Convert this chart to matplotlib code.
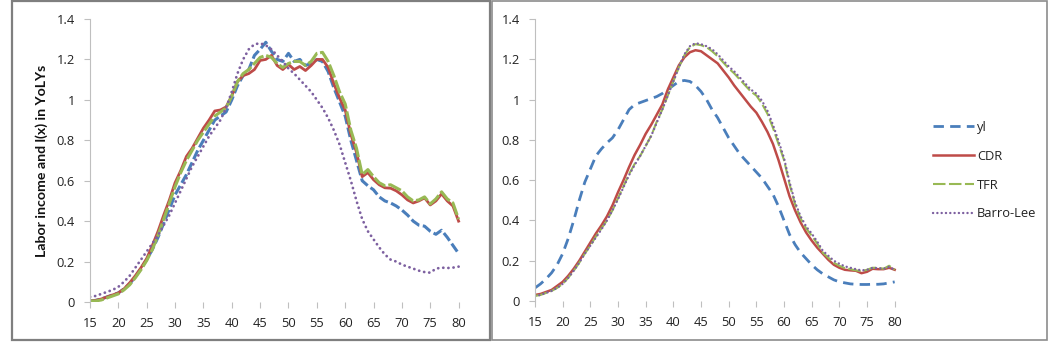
import matplotlib
matplotlib.use("Agg")
import matplotlib.pyplot as plt
from matplotlib.patches import Rectangle

plt.rcParams['font.family'] = ['Open Sans', 'DejaVu Sans']
plt.rcParams['lines.scale_dashes'] = False

ages = list(range(15, 81))
xticks = list(range(15, 81, 5))
yticks = [0, 0.2, 0.4, 0.6, 0.8, 1.0, 1.2, 1.4]
ytick_labels = ["0", "0.2", "0.4", "0.6", "0.8", "1", "1.2", "1.4"]
series_names = ["yl", "CDR", "TFR", "Barro-Lee"]
ylabel_text = "Labor income and l(x) in YoLYs"

# ---- left panel ----
left_yl = [0.005, 0.008, 0.015, 0.025, 0.035, 0.045, 0.065, 0.09, 0.125, 0.165,
           0.21, 0.26, 0.32, 0.39, 0.46, 0.53, 0.58, 0.63, 0.69, 0.75,
           0.80, 0.85, 0.90, 0.92, 0.94, 1.00, 1.07, 1.12, 1.15, 1.22,
           1.25, 1.285, 1.24, 1.20, 1.19, 1.23, 1.19, 1.20, 1.17, 1.18,
           1.20, 1.19, 1.14, 1.06, 0.99, 0.92, 0.80, 0.70, 0.60, 0.575,
           0.555, 0.52, 0.50, 0.49, 0.475, 0.455, 0.43, 0.40, 0.38, 0.375,
           0.35, 0.335, 0.355, 0.32, 0.28, 0.24]
left_cdr = [0.005, 0.008, 0.015, 0.025, 0.035, 0.045, 0.065, 0.095, 0.13, 0.17,
            0.215, 0.28, 0.35, 0.43, 0.505, 0.59, 0.65, 0.72, 0.76, 0.81,
            0.86, 0.90, 0.945, 0.95, 0.965, 1.02, 1.09, 1.12, 1.13, 1.15,
            1.195, 1.20, 1.22, 1.17, 1.15, 1.175, 1.15, 1.165, 1.145, 1.17,
            1.20, 1.20, 1.16, 1.08, 1.01, 0.95, 0.83, 0.74, 0.62, 0.64,
            0.605, 0.58, 0.565, 0.563, 0.55, 0.53, 0.505, 0.49, 0.50, 0.515,
            0.48, 0.50, 0.535, 0.50, 0.475, 0.40]
left_tfr = [0.005, 0.005, 0.01, 0.02, 0.03, 0.04, 0.06, 0.085, 0.12, 0.16,
            0.205, 0.26, 0.33, 0.41, 0.49, 0.57, 0.64, 0.70, 0.75, 0.80,
            0.84, 0.88, 0.92, 0.94, 0.96, 1.02, 1.09, 1.13, 1.15, 1.18,
            1.21, 1.22, 1.21, 1.18, 1.16, 1.18, 1.19, 1.19, 1.17, 1.19,
            1.23, 1.235, 1.19, 1.12, 1.04, 0.98, 0.85, 0.76, 0.63, 0.655,
            0.62, 0.59, 0.575, 0.58, 0.565, 0.55, 0.52, 0.50, 0.505, 0.52,
            0.485, 0.51, 0.545, 0.51, 0.49, 0.41]
left_bl = [0.025, 0.03, 0.04, 0.05, 0.06, 0.075, 0.10, 0.13, 0.17, 0.21,
           0.25, 0.29, 0.33, 0.38, 0.43, 0.49, 0.55, 0.61, 0.67, 0.72,
           0.77, 0.82, 0.86, 0.90, 0.96, 1.04, 1.13, 1.20, 1.25, 1.275,
           1.28, 1.27, 1.25, 1.22, 1.19, 1.155, 1.13, 1.10, 1.07, 1.04,
           1.00, 0.96, 0.91, 0.85, 0.78, 0.69, 0.60, 0.50, 0.41, 0.35,
           0.31, 0.27, 0.235, 0.21, 0.20, 0.185, 0.175, 0.165, 0.155, 0.148,
           0.145, 0.165, 0.17, 0.168, 0.17, 0.175]

# ---- right panel ----
right_yl = [0.065, 0.085, 0.11, 0.14, 0.18, 0.235, 0.31, 0.40, 0.50, 0.59,
            0.655, 0.72, 0.755, 0.785, 0.81, 0.85, 0.90, 0.95, 0.975, 0.985,
            0.995, 1.005, 1.015, 1.03, 1.05, 1.07, 1.09, 1.095, 1.09, 1.07,
            1.04, 1.00, 0.95, 0.91, 0.86, 0.81, 0.77, 0.73, 0.70, 0.67,
            0.64, 0.61, 0.57, 0.53, 0.47, 0.40, 0.33, 0.28, 0.24, 0.21,
            0.18, 0.155, 0.135, 0.12, 0.105, 0.095, 0.09, 0.085, 0.083, 0.082,
            0.082, 0.083, 0.083, 0.085, 0.09, 0.095]
right_cdr = [0.03, 0.035, 0.045, 0.055, 0.075, 0.095, 0.125, 0.16, 0.20, 0.245,
             0.29, 0.335, 0.375, 0.42, 0.475, 0.54, 0.60, 0.665, 0.725, 0.775,
             0.83, 0.875, 0.925, 0.975, 1.05, 1.11, 1.17, 1.21, 1.235, 1.245,
             1.24, 1.22, 1.20, 1.18, 1.145, 1.11, 1.07, 1.035, 1.00, 0.965,
             0.935, 0.89, 0.84, 0.78, 0.70, 0.61, 0.52, 0.45, 0.39, 0.34,
             0.30, 0.265, 0.235, 0.205, 0.18, 0.165, 0.155, 0.152, 0.15, 0.138,
             0.145, 0.16, 0.158, 0.158, 0.165, 0.155]
right_tfr = [0.025, 0.03, 0.04, 0.05, 0.065, 0.085, 0.115, 0.15, 0.19, 0.235,
             0.275, 0.32, 0.36, 0.40, 0.45, 0.51, 0.57, 0.63, 0.68, 0.72,
             0.77, 0.82, 0.89, 0.95, 1.02, 1.09, 1.16, 1.22, 1.26, 1.275,
             1.27, 1.26, 1.24, 1.215, 1.185, 1.155, 1.13, 1.10, 1.07, 1.04,
             1.02, 0.98, 0.93, 0.86, 0.78, 0.70, 0.58, 0.48, 0.41, 0.36,
             0.325, 0.285, 0.24, 0.215, 0.19, 0.175, 0.163, 0.158, 0.152, 0.148,
             0.155, 0.165, 0.165, 0.16, 0.175, 0.155]
right_bl = [0.025, 0.03, 0.04, 0.05, 0.065, 0.085, 0.115, 0.15, 0.19, 0.235,
            0.275, 0.315, 0.355, 0.40, 0.45, 0.505, 0.565, 0.625, 0.675, 0.72,
            0.77, 0.82, 0.885, 0.95, 1.02, 1.09, 1.16, 1.225, 1.265, 1.28,
            1.275, 1.265, 1.25, 1.225, 1.195, 1.165, 1.14, 1.11, 1.08, 1.05,
            1.03, 0.995, 0.945, 0.875, 0.795, 0.71, 0.59, 0.49, 0.42, 0.37,
            0.335, 0.295, 0.25, 0.225, 0.20, 0.185, 0.172, 0.165, 0.158, 0.152,
            0.155, 0.165, 0.163, 0.16, 0.17, 0.155]

W, H = 1050, 344
fig = plt.figure(figsize=(W / 100, H / 100), dpi=100)
fig.patch.set_facecolor("white")

BLUE = "#4A7EBB"
RED = "#BE4B48"
GREEN = "#98B954"
PURPLE = "#7D60A0"
FS = 9.3


def fx(px):
    return px / W


def fy(py):
    return 1 - py / H


def style_axes(ax):
    ax.set_xlim(15, 80.6)
    ax.set_ylim(0, 1.4)
    for s in ["top", "right", "bottom"]:
        ax.spines[s].set_visible(False)
    ax.spines["left"].set_color("#BFBFBF")
    ax.spines["left"].set_linewidth(0.8)
    ax.set_xticks(xticks)
    ax.set_xticklabels([str(t) for t in xticks])
    ax.set_yticks(yticks)
    ax.set_yticklabels(ytick_labels)
    ax.tick_params(axis="y", direction="out", length=4, width=0.8, color="#BFBFBF",
                   pad=7, labelsize=FS, labelcolor="#222222")
    ax.tick_params(axis="x", direction="out", length=4, width=0.8, color="#BFBFBF",
                   pad=6.5, labelsize=FS, labelcolor="#222222")
    ax.patch.set_alpha(0)


# Left axes
axL = fig.add_axes([fx(90), fy(302), fx(462) - fx(90), fy(19) - fy(302)])
style_axes(axL)
axL.plot(ages, left_yl, color=BLUE, lw=2.2, linestyle=(0, (7, 2.5)))
axL.plot(ages, left_cdr, color=RED, lw=2.0)
axL.plot(ages, left_tfr, color=GREEN, lw=2.2, linestyle=(0, (10, 2)))
axL.plot(ages, left_bl, color=PURPLE, lw=2.0, linestyle=(0, (0.1, 3.6)), dash_capstyle="round")
axL.set_ylabel(ylabel_text, fontsize=10.2, fontweight="bold", color="#111111",
               family=['Lato', 'DejaVu Sans'])
axL.yaxis.set_label_coords(-42 / 372, 0.5)

# Right axes
axR = fig.add_axes([fx(535), fy(301), fx(898) - fx(535), fy(19) - fy(301)])
style_axes(axR)
l1, = axR.plot(ages, right_yl, color=BLUE, lw=2.0, linestyle=(0, (7.5, 4.5)))
l2, = axR.plot(ages, right_cdr, color=RED, lw=1.8)
l3, = axR.plot(ages, right_tfr, color=GREEN, lw=1.5, linestyle=(0, (9, 2.5)))
l4, = axR.plot(ages, right_bl, color=PURPLE, lw=1.7, linestyle=(0, (0.1, 3)),
               dash_capstyle="round")

leg = fig.legend(handles=[l1, l2, l3, l4], labels=series_names,
                 loc="upper left", bbox_to_anchor=(fx(933), fy(121)),
                 frameon=False, fontsize=FS, handlelength=3.2, handletextpad=0.22,
                 labelspacing=1.22, borderpad=0, borderaxespad=0)
for t in leg.get_texts():
    t.set_color("#222222")

# Panel borders
fig.add_artist(Rectangle((fx(12), fy(340)), fx(490) - fx(12), fy(1) - fy(340),
                         transform=fig.transFigure, fill=False, ec="#7F7F7F", lw=1.6))
fig.add_artist(Rectangle((fx(492), fy(340)), fx(1047) - fx(492), fy(1) - fy(340),
                         transform=fig.transFigure, fill=False, ec="#8C8C8C", lw=1.2))

fig.savefig("out.png", dpi=100, facecolor="white")
